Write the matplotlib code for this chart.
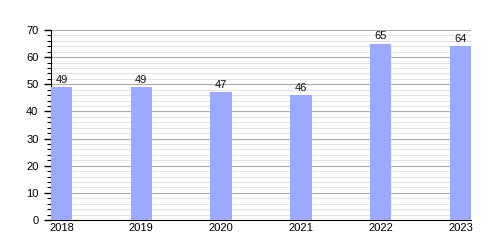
import matplotlib.pyplot as plt
from matplotlib.ticker import MultipleLocator

years = ["2018", "2019", "2020", "2021", "2022", "2023"]
values = [49, 49, 47, 46, 65, 64]

plt.rcParams["font.family"] = ["Liberation Sans", "DejaVu Sans"]

fig = plt.figure(figsize=(5, 2.5), dpi=100)
ax = fig.add_axes([0.102, 0.12, 0.84, 0.76])

x = range(len(years))
ax.bar(x, values, width=0.265, color="#99aaff", zorder=3)
for xi, v in zip(x, values):
    ax.text(xi, v + 0.8, str(v), ha="center", va="bottom", fontsize=8, color="#111111")

ax.set_xlim(-0.13, len(years) - 1 + 0.13)
ax.set_ylim(0, 70)
ax.set_xticks(list(x))
ax.set_xticklabels(years)
ax.yaxis.set_major_locator(MultipleLocator(10))
ax.yaxis.set_minor_locator(MultipleLocator(2))

ax.grid(axis="y", which="major", color="#aaaaaa", linewidth=0.8, zorder=0)
ax.grid(axis="y", which="minor", color="#dddddd", linewidth=0.6, zorder=0)

for side in ["top", "right"]:
    ax.spines[side].set_visible(False)

ax.tick_params(axis="y", which="major", length=5, width=1, labelsize=8, pad=4)
ax.tick_params(axis="y", which="minor", length=3, width=0.8)
ax.tick_params(axis="x", length=0, labelsize=8, pad=2)

fig.savefig("out.png", dpi=100)
